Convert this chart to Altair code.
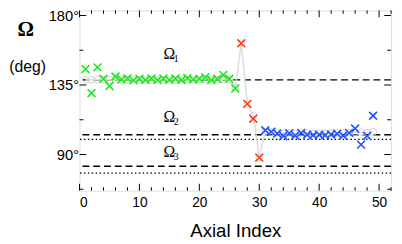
import altair as alt
import pandas as pd

# ---------------- data ----------------
green_idx = list(range(1, 27))
green_val = [145.3, 129.7, 146.4, 139.0, 134.3, 140.5, 138.5, 139.3, 138.0, 139.0,
             138.3, 139.3, 138.2, 139.2, 138.3, 139.2, 138.2, 139.5, 138.5, 139.0,
             140.0, 138.2, 139.0, 141.5, 139.0, 132.8]
red_idx = [27, 28, 29, 30]
red_val = [162.0, 122.8, 113.2, 88.0]
blue_idx = list(range(31, 50))
blue_val = [105.7, 104.7, 103.6, 102.0, 103.8, 102.2, 104.0, 102.8, 102.5, 102.8,
            102.5, 103.0, 103.5, 102.2, 104.0, 106.8, 96.4, 102.0, 115.1]
grey_idx = list(range(1, 50))
grey_val = [138.3, 138.4, 138.5, 138.4, 138.4, 138.5, 138.4, 138.5, 138.4, 138.5,
            138.4, 138.5, 138.4, 138.5, 138.4, 138.5, 138.4, 138.5, 138.4, 138.5,
            138.6, 138.5, 138.6, 138.6, 138.2, 133.2, 162.0, 122.6, 115.2, 88.0,
            105.0, 104.6, 104.2, 103.8, 104.0, 103.8, 104.0, 103.9, 103.8, 103.8,
            103.8, 103.9, 104.0, 103.9, 104.2, 104.6, 104.4, 104.2, 104.6]
dashed_levels = [138.3, 102.8, 82.4]
dotted_levels = [99.8, 78.0]
omega_labels = ["Ω", "Ω", "Ω"]
omega_subs = ["1", "2", "3"]
omega_x = [15.0, 15.0, 15.0]
omega_y = [154.7, 114.0, 91.5]
x_label_vals = [0, 10, 20, 30, 40, 50]
x_minor_vals = [2, 4, 6, 8, 12, 14, 16, 18, 22, 24, 26, 28, 32, 34, 36, 38, 42, 44, 46, 48, 52]
y_label_vals = [90, 135, 180]
y_minor_vals = [67.5, 112.5, 157.5]
x_title = "Axial Index"
y_title_sym = "Ω"
y_title_unit = "(deg)"

# ---------------- layout ----------------
W, H = 318, 184
xs = alt.Scale(domain=[0, 52], nice=False, zero=False)
ys = alt.Scale(domain=[66.6, 183.3], nice=False, zero=False)

xaxis = alt.Axis(values=x_label_vals, ticks=False, domain=False, grid=False,
                 labelFontSize=14, labelPadding=5, labelFont="Liberation Sans",
                 labelColor="black", title=x_title, titleFontSize=19,
                 titleFont="Liberation Sans", titleFontWeight="normal",
                 titleColor="black", titlePadding=13)
yaxis = alt.Axis(values=y_label_vals, labelExpr="datum.value + '°'", ticks=False,
                 domain=False, grid=False, labelFontSize=15, labelPadding=1,
                 labelFont="Liberation Sans", labelColor="black", title=None)


def X(f):
    return alt.X(f, type="quantitative", scale=xs, axis=xaxis)


def Y(f):
    return alt.Y(f, type="quantitative", scale=ys, axis=yaxis)


cross = "M-1,-1L1,1M-1,1L1,-1"

df_green = pd.DataFrame({"i": green_idx, "v": green_val})
df_red = pd.DataFrame({"i": red_idx, "v": red_val})
df_blue = pd.DataFrame({"i": blue_idx, "v": blue_val})
df_grey = pd.DataFrame({"i": grey_idx, "v": grey_val})

grey_line = alt.Chart(df_grey).mark_line(color="#dcdcdc", strokeWidth=1.5).encode(x=X("i"), y=Y("v"))
grey_pts = alt.Chart(df_grey).mark_point(shape="circle", filled=False, color="#cfcfcf",
                                         size=48, strokeWidth=1, opacity=1).encode(x=X("i"), y=Y("v"))


def crosses(df, color):
    return alt.Chart(df).mark_point(shape=cross, filled=False, color=color, size=64,
                                    strokeWidth=1.6, opacity=1).encode(x=X("i"), y=Y("v"))


dashed = alt.Chart(pd.DataFrame({"v": dashed_levels})).mark_rule(
    color="black", strokeWidth=1.3, strokeDash=[7, 4]).encode(y=Y("v"))
dotted = alt.Chart(pd.DataFrame({"v": dotted_levels})).mark_rule(
    color="black", strokeWidth=1.3, strokeDash=[1.5, 2.5]).encode(y=Y("v"))

df_om = pd.DataFrame({"x": omega_x, "y": omega_y, "t": omega_labels, "s": omega_subs})
om_text = alt.Chart(df_om).mark_text(font="Liberation Serif", fontSize=16, color="black").encode(
    x=X("x"), y=Y("y"), text="t:N")
om_sub = alt.Chart(df_om).mark_text(font="Liberation Serif", fontSize=10, color="black",
                                    dx=7, dy=5).encode(x=X("x"), y=Y("y"), text="s:N")

ytitle1 = alt.Chart(pd.DataFrame({"t": [y_title_sym]})).mark_text(
    font="Liberation Serif", fontSize=21, fontWeight="bold", color="black").encode(
    x=alt.value(-55), y=alt.value(20), text="t:N")
ytitle2 = alt.Chart(pd.DataFrame({"t": [y_title_unit]})).mark_text(
    font="Liberation Sans", fontSize=16, color="black").encode(
    x=alt.value(-53), y=alt.value(58), text="t:N")

# inward ticks
df_ymaj = pd.DataFrame({"v": y_label_vals})
df_ymin = pd.DataFrame({"v": y_minor_vals})
df_xmaj = pd.DataFrame({"i": x_label_vals})
df_xmin = pd.DataFrame({"i": x_minor_vals})
tk = dict(color="black", strokeWidth=1)
ticks = [
    alt.Chart(df_ymaj).mark_rule(**tk).encode(y=Y("v"), x=alt.value(0), x2=alt.value(7)),
    alt.Chart(df_ymin).mark_rule(**tk).encode(y=Y("v"), x=alt.value(0), x2=alt.value(4)),
    alt.Chart(df_ymaj).mark_rule(**tk).encode(y=Y("v"), x=alt.value(W), x2=alt.value(W - 7)),
    alt.Chart(df_ymin).mark_rule(**tk).encode(y=Y("v"), x=alt.value(W), x2=alt.value(W - 4)),
    alt.Chart(df_xmaj).mark_rule(**tk).encode(x=X("i"), y=alt.value(H), y2=alt.value(H - 7)),
    alt.Chart(df_xmin).mark_rule(**tk).encode(x=X("i"), y=alt.value(H), y2=alt.value(H - 3.5)),
    alt.Chart(df_xmaj).mark_rule(**tk).encode(x=X("i"), y=alt.value(0), y2=alt.value(7)),
    alt.Chart(df_xmin).mark_rule(**tk).encode(x=X("i"), y=alt.value(0), y2=alt.value(3.5)),
]

chart = alt.layer(
    dashed, dotted, grey_line, grey_pts,
    crosses(df_green, "#1ee81e"), crosses(df_red, "#ff3a1a"), crosses(df_blue, "#2553ff"),
    om_text, om_sub, ytitle1, ytitle2, *ticks
).properties(
    width=W, height=H, autosize="none",
    padding={"left": 73, "top": 0, "right": 3, "bottom": 52},
).configure_view(stroke="black", strokeWidth=1.2).configure(background="white")

chart.save("out.html", embed_options={"renderer": "svg", "actions": False})
